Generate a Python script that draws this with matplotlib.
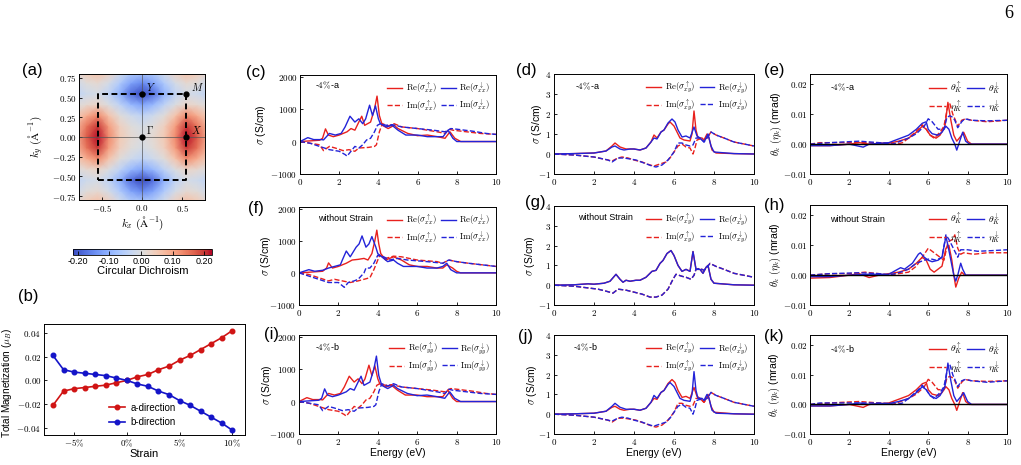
import numpy as np
import matplotlib
matplotlib.use('Agg')
import matplotlib.pyplot as plt

plt.rcParams['font.family'] = ['Liberation Sans', 'DejaVu Sans']
plt.rcParams['mathtext.fontset'] = 'cm'

W, H = 1021, 465
RED = '#e8211d'
BLUE = '#2323d8'

# ---------------- (a) circular dichroism map, one quadrant (ky rows, kx cols) ----------------
k_nodes = [0.0, 0.1375, 0.275, 0.4125, 0.55, 0.6875, 0.825]
cd_quadrant = [
    [0.00, 0.02, 0.05, 0.13, 0.22, 0.17, 0.08],
    [-0.01, 0.01, 0.04, 0.11, 0.20, 0.15, 0.07],
    [-0.04, -0.02, 0.01, 0.06, 0.13, 0.09, 0.04],
    [-0.12, -0.09, -0.04, 0.00, 0.03, 0.02, 0.00],
    [-0.22, -0.18, -0.10, -0.04, -0.01, -0.02, -0.04],
    [-0.15, -0.12, -0.06, -0.01, 0.02, 0.01, -0.02],
    [-0.06, -0.05, -0.01, 0.04, 0.07, 0.05, 0.01],
]
bz_kx = [-0.55, 0.55, 0.55, -0.55, -0.55]
bz_ky = [-0.55, -0.55, 0.55, 0.55, -0.55]
hs_kx = [0.0, 0.55, 0.0, 0.55]
hs_ky = [0.0, 0.0, 0.55, 0.55]
hs_names = [r'$\Gamma$', r'$X$', r'$Y$', r'$M$']

# ---------------- (b) magnetization vs strain ----------------
strain = [-7, -6, -5, -4, -3, -2, -1, 0, 1, 2, 3, 4, 5, 6, 7, 8, 9, 10]
mag_a = [-0.021, -0.009, -0.007, -0.006, -0.005, -0.004, -0.002, 0.000, 0.003, 0.005,
         0.009, 0.012, 0.017, 0.021, 0.026, 0.031, 0.036, 0.042]
mag_b = [0.021, 0.009, 0.007, 0.006, 0.005, 0.004, 0.002, 0.000, -0.003, -0.005,
         -0.009, -0.012, -0.017, -0.021, -0.026, -0.031, -0.036, -0.042]

# ---------------- sigma_xx, -4% a (c); swapped spins give -4% b (i) ----------------
xxa_re_up_e = [0, 0.5, 1.0, 1.15, 1.3, 1.45, 1.7, 2.0, 2.4, 2.6, 2.8, 3.0, 3.15, 3.3, 3.6, 3.8,
               3.93, 4.05, 4.2, 4.5, 4.8, 5.0, 5.5, 6.0, 6.5, 7.0, 7.4, 7.65, 7.9, 8.2, 10]
xxa_re_up = [0, 20, 40, 100, 390, 200, 150, 200, 300, 400, 350, 600, 780, 500, 600, 1000,
             1400, 800, 500, 400, 500, 400, 250, 180, 200, 150, 100, 300, 100, 0, 0]
xxa_re_dn_e = [0, 0.4, 0.7, 1.1, 1.2, 1.5, 1.8, 2.1, 2.3, 2.55, 2.8, 3.0, 3.2, 3.35, 3.55, 3.7,
               3.85, 4.0, 4.1, 4.4, 4.7, 5.0, 5.4, 6.0, 6.5, 7.0, 7.3, 7.55, 7.8, 8.0, 10]
xxa_re_dn = [0, 120, 60, 60, 50, 250, 200, 250, 450, 780, 600, 700, 550, 700, 1120, 800,
             1100, 700, 550, 450, 500, 350, 200, 200, 150, 150, 150, 350, 100, 0, 0]
xxa_im_up_e = [0, 0.5, 1.0, 1.2, 1.5, 1.8, 2.2, 2.5, 2.8, 3.0, 3.5, 3.8, 3.9, 4.05, 4.2, 4.5,
               4.8, 5.2, 6.0, 6.5, 7.0, 7.4, 7.6, 7.8, 8.5, 9.2, 10]
xxa_im_up = [0, -50, -100, -280, -150, -200, -280, -250, -300, -200, -180, -150, -100, 300, 550, 480,
             550, 450, 400, 350, 300, 250, 380, 350, 300, 250, 220]
xxa_im_dn_e = [0, 0.5, 1.0, 1.5, 2.0, 2.3, 2.4, 2.6, 2.8, 3.0, 3.2, 3.4, 3.6, 3.8, 3.95, 4.1,
               4.4, 4.7, 5.2, 6.0, 6.8, 7.4, 7.7, 8.0, 8.8, 9.5, 10]
xxa_im_dn = [0, -50, -150, -250, -300, -400, -450, -300, -150, -200, -100, 50, 100, 300, 500, 550,
             500, 520, 450, 400, 350, 300, 400, 380, 320, 250, 220]

# ---------------- sigma_xx, no strain (f) ----------------
xx0_re_up_e = [0, 0.5, 1.2, 1.4, 1.5, 1.7, 2.0, 2.4, 2.7, 3.0, 3.3, 3.5, 3.7, 3.85, 3.95, 4.05,
               4.15, 4.4, 4.8, 5.2, 5.6, 6.0, 6.5, 7.0, 7.3, 7.5, 7.8, 8.0, 8.2, 10]
xx0_re_up = [0, 20, 50, 150, 310, 150, 200, 300, 400, 420, 450, 400, 600, 1000, 1330, 900,
             600, 400, 500, 400, 250, 200, 200, 150, 150, 250, 150, 50, 0, 0]
xx0_re_dn_e = [0, 0.5, 0.8, 1.2, 1.5, 1.8, 2.1, 2.2, 2.4, 2.6, 2.9, 3.05, 3.2, 3.4, 3.55, 3.7,
               3.9, 4.0, 4.2, 4.5, 4.8, 5.0, 5.3, 6.0, 6.5, 7.0, 7.3, 7.5, 7.7, 8.0, 10]
xx0_re_dn = [0, 100, 50, 80, 150, 200, 250, 400, 680, 500, 800, 900, 1150, 800, 900, 1130,
             800, 600, 500, 350, 400, 300, 200, 200, 150, 150, 200, 300, 100, 0, 0]
xx0_im_up_e = [0, 0.5, 1.0, 1.5, 1.8, 2.2, 2.6, 3.0, 3.3, 3.6, 3.8, 4.0, 4.1, 4.4, 4.8, 5.2,
               5.6, 6.0, 7.0, 7.3, 7.6, 8.0, 8.6, 9.3, 10]
xx0_im_up = [0, -50, -150, -250, -200, -250, -300, -250, -200, -150, 100, 400, 550, 450, 520, 500,
             450, 400, 350, 300, 400, 350, 300, 250, 200]
xx0_im_dn_e = [0, 0.5, 1.0, 1.5, 2.0, 2.3, 2.5, 2.8, 3.0, 3.3, 3.4, 3.6, 3.8, 4.0, 4.3, 4.6,
               5.0, 5.5, 6.5, 7.3, 7.6, 8.0, 8.6, 9.3, 10]
xx0_im_dn = [0, -100, -200, -300, -300, -450, -300, -250, -200, 0, 150, 150, 300, 550, 500, 400,
             450, 400, 350, 300, 400, 350, 300, 250, 200]

# ---------------- sigma_xy, -4% a (d); swapped spins give (j) ----------------
xya_re_up_e = [0, 1, 2, 2.6, 2.9, 3.05, 3.3, 3.6, 4.0, 4.3, 4.6, 4.85, 5.0, 5.15, 5.35, 5.5, 5.7,
               5.8, 6.0, 6.15, 6.3, 6.5, 6.8, 6.9, 7.0, 7.1, 7.2, 7.4, 7.5, 7.65, 7.75, 7.9, 8.1, 9, 10]
xya_re_up = [0, 0.02, 0.05, 0.15, 0.4, 0.55, 0.35, 0.25, 0.25, 0.2, 0.3, 0.6, 0.95, 0.8, 1.1, 1.2, 1.5,
             1.6, 1.4, 1.1, 0.8, 0.7, 0.65, 1.0, 2.15, 1.2, 0.8, 0.8, 0.7, 1.0, 0.8, 0.2, 0.05, 0.02, 0]
xya_re_dn_e = [0, 1, 2, 2.6, 2.9, 3.05, 3.3, 3.5, 3.8, 4.0, 4.3, 4.6, 4.85, 5.0, 5.15, 5.35, 5.5,
               5.7, 5.9, 6.05, 6.2, 6.4, 6.6, 6.8, 7.0, 7.15, 7.3, 7.5, 7.65, 7.7, 7.85, 8.0, 9, 10]
xya_re_dn = [0, 0.02, 0.05, 0.15, 0.35, 0.4, 0.25, 0.2, 0.25, 0.25, 0.2, 0.3, 0.6, 0.8, 0.75, 1.1, 1.2,
             1.55, 1.75, 1.6, 1.2, 0.85, 0.9, 0.8, 1.35, 0.9, 0.8, 0.6, 0.9, 1.0, 0.4, 0.1, 0.02, 0]
xya_im_up_e = [0, 1, 2, 2.7, 2.9, 3.2, 3.4, 3.7, 4.0, 4.4, 4.8, 5.0, 5.3, 5.6, 5.8, 6.0, 6.2, 6.4,
               6.6, 6.8, 6.95, 7.05, 7.15, 7.3, 7.5, 7.65, 7.85, 8.1, 8.5, 9.0, 9.5, 10]
xya_im_up = [0, -0.05, -0.15, -0.3, -0.35, -0.2, -0.15, -0.2, -0.3, -0.4, -0.55, -0.6, -0.5, -0.4, -0.2,
             0.1, 0.4, 0.5, 0.35, 0.3, 0.0, 0.3, 0.7, 0.75, 0.7, 0.8, 1.1, 0.95, 0.8, 0.6, 0.5, 0.4]
xya_im_dn_e = [0, 1, 2, 2.7, 2.9, 3.2, 3.5, 3.8, 4.1, 4.5, 4.9, 5.1, 5.4, 5.7, 6.0, 6.2, 6.4, 6.6,
               6.8, 6.95, 7.1, 7.3, 7.5, 7.65, 7.85, 8.1, 8.5, 9.0, 9.5, 10]
xya_im_dn = [0, -0.05, -0.15, -0.3, -0.4, -0.2, -0.2, -0.25, -0.3, -0.45, -0.6, -0.65, -0.55, -0.3, 0.1,
             0.55, 0.55, 0.45, 0.4, 0.45, 0.8, 0.8, 0.6, 0.8, 1.1, 0.95, 0.8, 0.6, 0.5, 0.4]

# ---------------- sigma_xy, no strain (g): both spins coincide ----------------
xy0_re_e = [0, 1, 1.7, 2.0, 2.5, 2.8, 3.1, 3.3, 3.45, 3.6, 3.8, 4.1, 4.3, 4.6, 4.9, 5.1, 5.3, 5.45,
            5.65, 5.85, 6.0, 6.2, 6.4, 6.6, 6.8, 6.95, 7.1, 7.3, 7.45, 7.6, 7.7, 7.85, 8.0, 9, 10]
xy0_re = [0, 0.02, 0.07, 0.05, 0.1, 0.2, 0.55, 0.3, 0.15, 0.25, 0.2, 0.25, 0.25, 0.4, 0.7, 0.75, 1.1, 1.25,
          1.6, 1.75, 1.5, 1.0, 0.7, 0.8, 0.7, 1.7, 0.8, 0.8, 0.6, 0.9, 1.0, 0.3, 0.1, 0.02, 0]
xy0_im_e = [0, 1, 1.8, 2.2, 2.6, 2.95, 3.2, 3.6, 4.0, 4.4, 4.8, 5.1, 5.4, 5.7, 5.95, 6.1, 6.4, 6.6,
            6.85, 7.0, 7.1, 7.3, 7.5, 7.6, 7.8, 8.1, 8.5, 9.0, 9.5, 10]
xy0_im = [0, -0.05, -0.15, -0.2, -0.3, -0.4, -0.2, -0.25, -0.35, -0.45, -0.6, -0.6, -0.5, -0.2, 0.3,
          0.55, 0.45, 0.4, 0.3, 0.5, 0.8, 0.85, 0.75, 0.85, 1.1, 0.95, 0.8, 0.6, 0.5, 0.4]

# ---------------- Kerr, -4% a (e); swapped spins give (k) ----------------
ka_th_up_e = [0, 1, 2, 2.5, 3, 3.5, 4, 4.5, 5.0, 5.4, 5.7, 5.9, 6.1, 6.4, 6.6, 6.85, 7.0, 7.15, 7.3,
              7.45, 7.7, 7.8, 8.0, 8.2, 10]
ka_th_up = [-0.0005, -0.0005, 0.0, 0.0005, 0.0, 0.0003, 0.0003, 0.001, 0.002, 0.004, 0.006, 0.005,
            0.003, 0.002, 0.003, 0.006, 0.014, 0.008, 0.003, 0.001, 0.003, 0.004, 0.001, 0.0, 0.0]
ka_th_dn_e = [0, 1, 2, 2.7, 3.0, 4, 4.6, 5.0, 5.4, 5.7, 5.9, 6.0, 6.2, 6.5, 6.7, 6.9, 7.05, 7.2,
              7.35, 7.45, 7.55, 7.7, 7.75, 7.9, 8.1, 10]
ka_th_dn = [-0.0005, -0.0005, 0.0, -0.001, 0.0, 0.0005, 0.002, 0.003, 0.005, 0.007, 0.0075, 0.005,
            0.0035, 0.003, 0.004, 0.006, 0.005, 0.002, 0.0, -0.002, 0.0, 0.003, 0.004, 0.001, 0.0, 0.0]
ka_eta_up_e = [0, 0.5, 1.5, 2.5, 3.5, 4.0, 4.4, 4.7, 5.0, 5.5, 5.7, 5.9, 6.1, 6.3, 6.6, 6.8, 7.0,
               7.1, 7.25, 7.35, 7.5, 7.7, 7.9, 8.2, 9, 10]
ka_eta_up = [0, 0.0005, 0.0005, 0.0005, 0.0005, 0.0003, 0.0, 0.0005, 0.002, 0.005, 0.0065, 0.005,
             0.003, 0.002, 0.004, 0.006, 0.013, 0.0135, 0.01, 0.0085, 0.006, 0.008, 0.0085, 0.008,
             0.0075, 0.008]
ka_eta_dn_e = [0, 1.0, 2.5, 3.5, 4.2, 4.6, 5.0, 5.4, 5.8, 6.0, 6.2, 6.5, 6.8, 6.95, 7.1, 7.25, 7.35,
               7.5, 7.7, 7.85, 8.2, 9, 10]
ka_eta_dn = [0, 0.0005, 0.001, 0.0005, 0.0, 0.001, 0.002, 0.0035, 0.006, 0.0085, 0.0075, 0.005,
             0.005, 0.009, 0.0095, 0.009, 0.008, 0.0055, 0.0075, 0.0085, 0.008, 0.0078, 0.008]

# ---------------- Kerr, no strain (h) ----------------
k0_th_up_e = [0, 1, 2, 2.5, 3.0, 3.5, 4.0, 4.5, 5.0, 5.4, 5.7, 5.9, 6.1, 6.3, 6.5, 6.7, 6.9, 7.05,
              7.2, 7.3, 7.4, 7.55, 7.7, 7.85, 8.1, 10]
k0_th_up = [-0.001, -0.0008, 0.0, 0.0005, -0.0008, 0.0, 0.0005, 0.001, 0.002, 0.004, 0.006, 0.005,
            0.002, 0.001, 0.002, 0.003, 0.009, 0.01, 0.005, 0.0, -0.004, -0.001, 0.001, 0.0, 0.0, 0.0]
k0_th_dn_e = [0, 1, 2, 3, 4, 4.6, 4.8, 5.2, 5.5, 5.6, 5.8, 6.0, 6.2, 6.5, 6.7, 6.9, 7.0, 7.15, 7.3,
              7.4, 7.5, 7.65, 7.75, 7.9, 8.1, 10]
k0_th_dn = [-0.0005, -0.0005, 0.0, 0.0003, 0.0003, 0.0025, 0.002, 0.004, 0.007, 0.0075, 0.006, 0.005,
            0.0045, 0.005, 0.006, 0.013, 0.01, 0.005, 0.0, -0.002, 0.0, 0.004, 0.002, 0.0, 0.0, 0.0]
k0_eta_up_e = [0, 1, 2, 2.8, 3.5, 4.0, 4.5, 5.0, 5.4, 5.7, 6.0, 6.3, 6.6, 6.8, 7.0, 7.1, 7.25, 7.35,
               7.5, 7.65, 7.8, 8.3, 9, 10]
k0_eta_up = [0, 0.0005, 0.0005, 0.001, 0.0005, 0.0, 0.0005, 0.001, 0.003, 0.006, 0.009, 0.0075, 0.006,
             0.005, 0.011, 0.0115, 0.012, 0.0135, 0.009, 0.007, 0.0075, 0.007, 0.0075, 0.0075]
k0_eta_dn_e = [0, 1, 2.5, 3.5, 4, 4.6, 5.0, 5.4, 5.8, 6.1, 6.4, 6.7, 6.9, 7.05, 7.2, 7.35, 7.5, 7.65,
               8.0, 8.5, 9.2, 10]
k0_eta_dn = [0, 0.0005, 0.0008, 0.0005, 0.0, 0.001, 0.002, 0.004, 0.005, 0.0055, 0.005, 0.006, 0.0135,
             0.012, 0.01, 0.008, 0.006, 0.0085, 0.0085, 0.008, 0.0082, 0.0085]

# ---------------- tick labels ----------------
sig_yticks = [-1000, 0, 1000, 2000]
sig_ylabels = ['-1000', '0', '1000', '2000']
xy_yticks = [-1, 0, 1, 2, 3, 4]
xy_ylabels = ['-1', '0', '1', '2', '3', '4']
kerr_yticks = [-0.01, 0.0, 0.01, 0.02]
kerr_ylabels = ['-0.01', '0.00', '0.01', '0.02']
e_ticks = [0, 2, 4, 6, 8, 10]
e_labels = ['0', '2', '4', '6', '8', '10']


def leg_sigma(sub):
    return [r'$\mathrm{Re}(\sigma^{\uparrow}_{%s})$' % sub, r'$\mathrm{Im}(\sigma^{\uparrow}_{%s})$' % sub,
            r'$\mathrm{Re}(\sigma^{\downarrow}_{%s})$' % sub, r'$\mathrm{Im}(\sigma^{\downarrow}_{%s})$' % sub]


leg_kerr = [r'$\theta^{\uparrow}_{K}$', r'$\eta^{\uparrow}_{K}$',
            r'$\theta^{\downarrow}_{K}$', r'$\eta^{\downarrow}_{K}$']

fig = plt.figure(figsize=(W / 100, H / 100), dpi=100)


def box(l, t, r, b):
    return [l / W, 1 - b / H, (r - l) / W, (b - t) / H]


def m(labels):
    return ['$' + s + '$' for s in labels]


def style(ax):
    ax.tick_params(direction='in', length=2.5, width=0.6, labelsize=6.5, pad=2)
    for s in ax.spines.values():
        s.set_linewidth(0.7)


# ---- (a) ----
ax = fig.add_axes(box(79, 74, 205, 200))
q = np.array(cd_quadrant)
full = np.vstack([q[::-1], q[1:]])
full = np.hstack([full[:, ::-1], full[:, 1:]])
kk = np.array(k_nodes)
kfull = np.concatenate([-kk[::-1], kk[1:]])
im = ax.pcolormesh(kfull, kfull, full, shading='gouraud', cmap='coolwarm',
                   vmin=-0.215, vmax=0.225, rasterized=True)
ax.axhline(0, color='#555555', lw=0.5)
ax.axvline(0, color='#555555', lw=0.5)
ax.plot(bz_kx, bz_ky, 'k--', lw=1.4, dashes=(3, 1.8))
ax.plot(hs_kx, hs_ky, 'o', color='k', ms=3.5)
for x, y, n in zip(hs_kx, hs_ky, hs_names):
    ax.annotate(n, (x, y), xytext=(3, 2), textcoords='offset points', fontsize=7.5)
ax.set_xlim(-0.78, 0.78)
ax.set_ylim(-0.8, 0.8)
ax.set_xticks([-0.5, 0, 0.5], m(['-0.5', '0.0', '0.5']))
ax.set_yticks([-0.75, -0.5, -0.25, 0, 0.25, 0.5, 0.75],
              m(['-0.75', '-0.50', '-0.25', '0.00', '0.25', '0.50', '0.75']))
style(ax)
ax.set_xlabel(r'$k_x\ (\mathrm{\AA}^{-1})$', fontsize=8, labelpad=1)
ax.set_ylabel(r'$k_y\ (\mathrm{\AA}^{-1})$', fontsize=8)
ax.yaxis.set_label_coords(-0.27, 0.5)
fig.text(32 / W, 1 - 70 / H, '(a)', fontsize=12, ha='center', va='center')

cax = fig.add_axes(box(73, 249, 212, 255))
cb = fig.colorbar(im, cax=cax, orientation='horizontal')
cb.set_ticks([-0.2, -0.1, 0, 0.1, 0.2], labels=['-0.20', '-0.10', '0.00', '0.10', '0.20'])
cb.ax.tick_params(direction='in', length=3, width=0.6, labelsize=6.5, pad=1.5)
cb.outline.set_linewidth(0.6)
cb.set_label('Circular Dichroism', fontsize=8, labelpad=0)

# ---- (b) ----
ax = fig.add_axes(box(44, 324, 245, 435))
ax.plot(strain, mag_a, '-o', color='#d01414', lw=1.2, ms=3.3, label='a-direction')
ax.plot(strain, mag_b, '-o', color='#1414c8', lw=1.2, ms=3.3, label='b-direction')
ax.set_xlim(-7.85, 11.2)
ax.set_ylim(-0.046, 0.0475)
ax.set_xticks([-5, 0, 5, 10], m([r'-5\%', r'0\%', r'5\%', r'10\%']))
ax.set_yticks([-0.04, -0.02, 0, 0.02, 0.04], m(['-0.04', '-0.02', '0.00', '0.02', '0.04']))
style(ax)
ax.set_xlabel('Strain', fontsize=8, labelpad=0)
ax.set_ylabel(r'Total Magnetization ($\mu_B$)', fontsize=7.2)
ax.yaxis.set_label_coords(-0.15, 0.47)
ax.legend(loc='center', bbox_to_anchor=(0.49, 0.18), frameon=False, fontsize=7,
          handlelength=1.6, handletextpad=0.6, labelspacing=0.5)
fig.text(28 / W, 1 - 297 / H, '(b)', fontsize=12, ha='center', va='center')


# ---- conductivity / Kerr panels ----
def panel(rect, curves, labels, ylim, yticks, ylabels, ylab, ylab_x, note, note_xy,
          tag, tag_xy, legsize, zero=False, bottom=False):
    ax = fig.add_axes(box(*rect))
    for (e, v, c, ls), lab in zip(curves, labels):
        ax.plot(e, v, color=c, ls=ls, lw=1.0, label=lab)
    if zero:
        ax.axhline(0, color='k', lw=1.0, zorder=2.5)
    ax.set_xlim(0, 10)
    ax.set_ylim(*ylim)
    ax.set_xticks(e_ticks, m(e_labels))
    ax.set_yticks(yticks, m(ylabels))
    style(ax)
    ax.set_ylabel(ylab, fontsize=7.5)
    ax.yaxis.set_label_coords(ylab_x, 0.5)
    if bottom:
        ax.set_xlabel('Energy (eV)', fontsize=7.5, labelpad=1)
    ax.text(note_xy[0], note_xy[1], note, transform=ax.transAxes, fontsize=6.5, va='center')
    ax.legend(loc='upper right', ncol=2, frameon=False, fontsize=legsize, handlelength=1.7,
              handletextpad=0.4, columnspacing=0.5, labelspacing=0.2, borderaxespad=0.25)
    fig.text(tag_xy[0] / W, 1 - tag_xy[1] / H, tag, fontsize=12, ha='center', va='center')
    return ax


sig_lab = r'$\sigma$ (S/cm)'
kerr_lab = r'$\theta_k$ $(\eta_k)$ (mrad)'
sig_lim = (-1000, 2050)
xy_lim = (-1, 4)
kerr_lim = (-0.01, 0.0235)

# row 1: -4% a
panel((300, 75, 496, 174),
      [(xxa_re_up_e, xxa_re_up, RED, '-'), (xxa_im_up_e, xxa_im_up, RED, '--'),
       (xxa_re_dn_e, xxa_re_dn, BLUE, '-'), (xxa_im_dn_e, xxa_im_dn, BLUE, '--')],
      leg_sigma('xx'), sig_lim, sig_yticks, sig_ylabels, sig_lab, -0.163,
      r'-$4\%$-a', (0.075, 0.89), '(c)', (256, 72), 6.3)
panel((554, 74, 754, 174),
      [(xya_re_up_e, xya_re_up, RED, '-'), (xya_im_up_e, xya_im_up, RED, '--'),
       (xya_re_dn_e, xya_re_dn, BLUE, '-'), (xya_im_dn_e, xya_im_dn, BLUE, '--')],
      leg_sigma('xy'), xy_lim, xy_yticks, xy_ylabels, sig_lab, -0.05,
      r'-$4\%$-a', (0.105, 0.88), '(d)', (526, 70), 6.3)
panel((810, 74, 1007, 174),
      [(ka_th_up_e, ka_th_up, RED, '-'), (ka_eta_up_e, ka_eta_up, RED, '--'),
       (ka_th_dn_e, ka_th_dn, BLUE, '-'), (ka_eta_dn_e, ka_eta_dn, BLUE, '--')],
      leg_kerr, kerr_lim, kerr_yticks, kerr_ylabels, kerr_lab, -0.13,
      r'-$4\%$-a', (0.10, 0.87), '(e)', (774, 70), 7, zero=True)

# row 2: without strain
panel((299, 207, 496, 305),
      [(xx0_re_up_e, xx0_re_up, RED, '-'), (xx0_im_up_e, xx0_im_up, RED, '--'),
       (xx0_re_dn_e, xx0_re_dn, BLUE, '-'), (xx0_im_dn_e, xx0_im_dn, BLUE, '--')],
      leg_sigma('xx'), sig_lim, sig_yticks, sig_ylabels, sig_lab, -0.13,
      'without Strain', (0.097, 0.88), '(f)', (256, 209), 6.3)
panel((554, 206, 754, 305),
      [(xy0_re_e, xy0_re, RED, '-'), (xy0_im_e, xy0_im, RED, '--'),
       (xy0_re_e, xy0_re, BLUE, '-'), (xy0_im_e, xy0_im, BLUE, '--')],
      leg_sigma('xy'), xy_lim, xy_yticks, xy_ylabels, sig_lab, -0.085,
      'without Strain', (0.12, 0.88), '(g)', (535, 202), 6.3)
panel((810, 205, 1007, 305),
      [(k0_th_up_e, k0_th_up, RED, '-'), (k0_eta_up_e, k0_eta_up, RED, '--'),
       (k0_th_dn_e, k0_th_dn, BLUE, '-'), (k0_eta_dn_e, k0_eta_dn, BLUE, '--')],
      leg_kerr, kerr_lim, kerr_yticks, kerr_ylabels, kerr_lab, -0.137,
      'without Strain', (0.10, 0.85), '(h)', (774, 205), 7, zero=True)

# row 3: -4% b (spin channels exchanged with respect to -4% a)
panel((299, 335, 496, 434),
      [(xxa_re_dn_e, xxa_re_dn, RED, '-'), (xxa_im_dn_e, xxa_im_dn, RED, '--'),
       (xxa_re_up_e, xxa_re_up, BLUE, '-'), (xxa_im_up_e, xxa_im_up, BLUE, '--')],
      leg_sigma('yy'), sig_lim, sig_yticks, sig_ylabels, sig_lab, -0.125,
      r'-$4\%$-b', (0.08, 0.87), '(i)', (271, 334), 6.3, bottom=True)
panel((554, 335, 754, 434),
      [(xya_re_dn_e, xya_re_dn, RED, '-'), (xya_im_dn_e, xya_im_dn, RED, '--'),
       (xya_re_up_e, xya_re_up, BLUE, '-'), (xya_im_up_e, xya_im_up, BLUE, '--')],
      leg_sigma('xy'), xy_lim, xy_yticks, xy_ylabels, sig_lab, -0.075,
      r'-$4\%$-b', (0.095, 0.87), '(j)', (525, 337), 6.3, bottom=True)
panel((810, 335, 1007, 434),
      [(ka_th_dn_e, ka_th_dn, RED, '-'), (ka_eta_dn_e, ka_eta_dn, RED, '--'),
       (ka_th_up_e, ka_th_up, BLUE, '-'), (ka_eta_up_e, ka_eta_up, BLUE, '--')],
      leg_kerr, kerr_lim, kerr_yticks, kerr_ylabels, kerr_lab, -0.14,
      r'-$4\%$-b', (0.10, 0.85), '(k)', (774, 336), 7, zero=True, bottom=True)

fig.text(1009 / W, 1 - 13 / H, '6', fontsize=13, family='Liberation Serif', ha='center', va='center')

fig.savefig('out.png', dpi=100)
